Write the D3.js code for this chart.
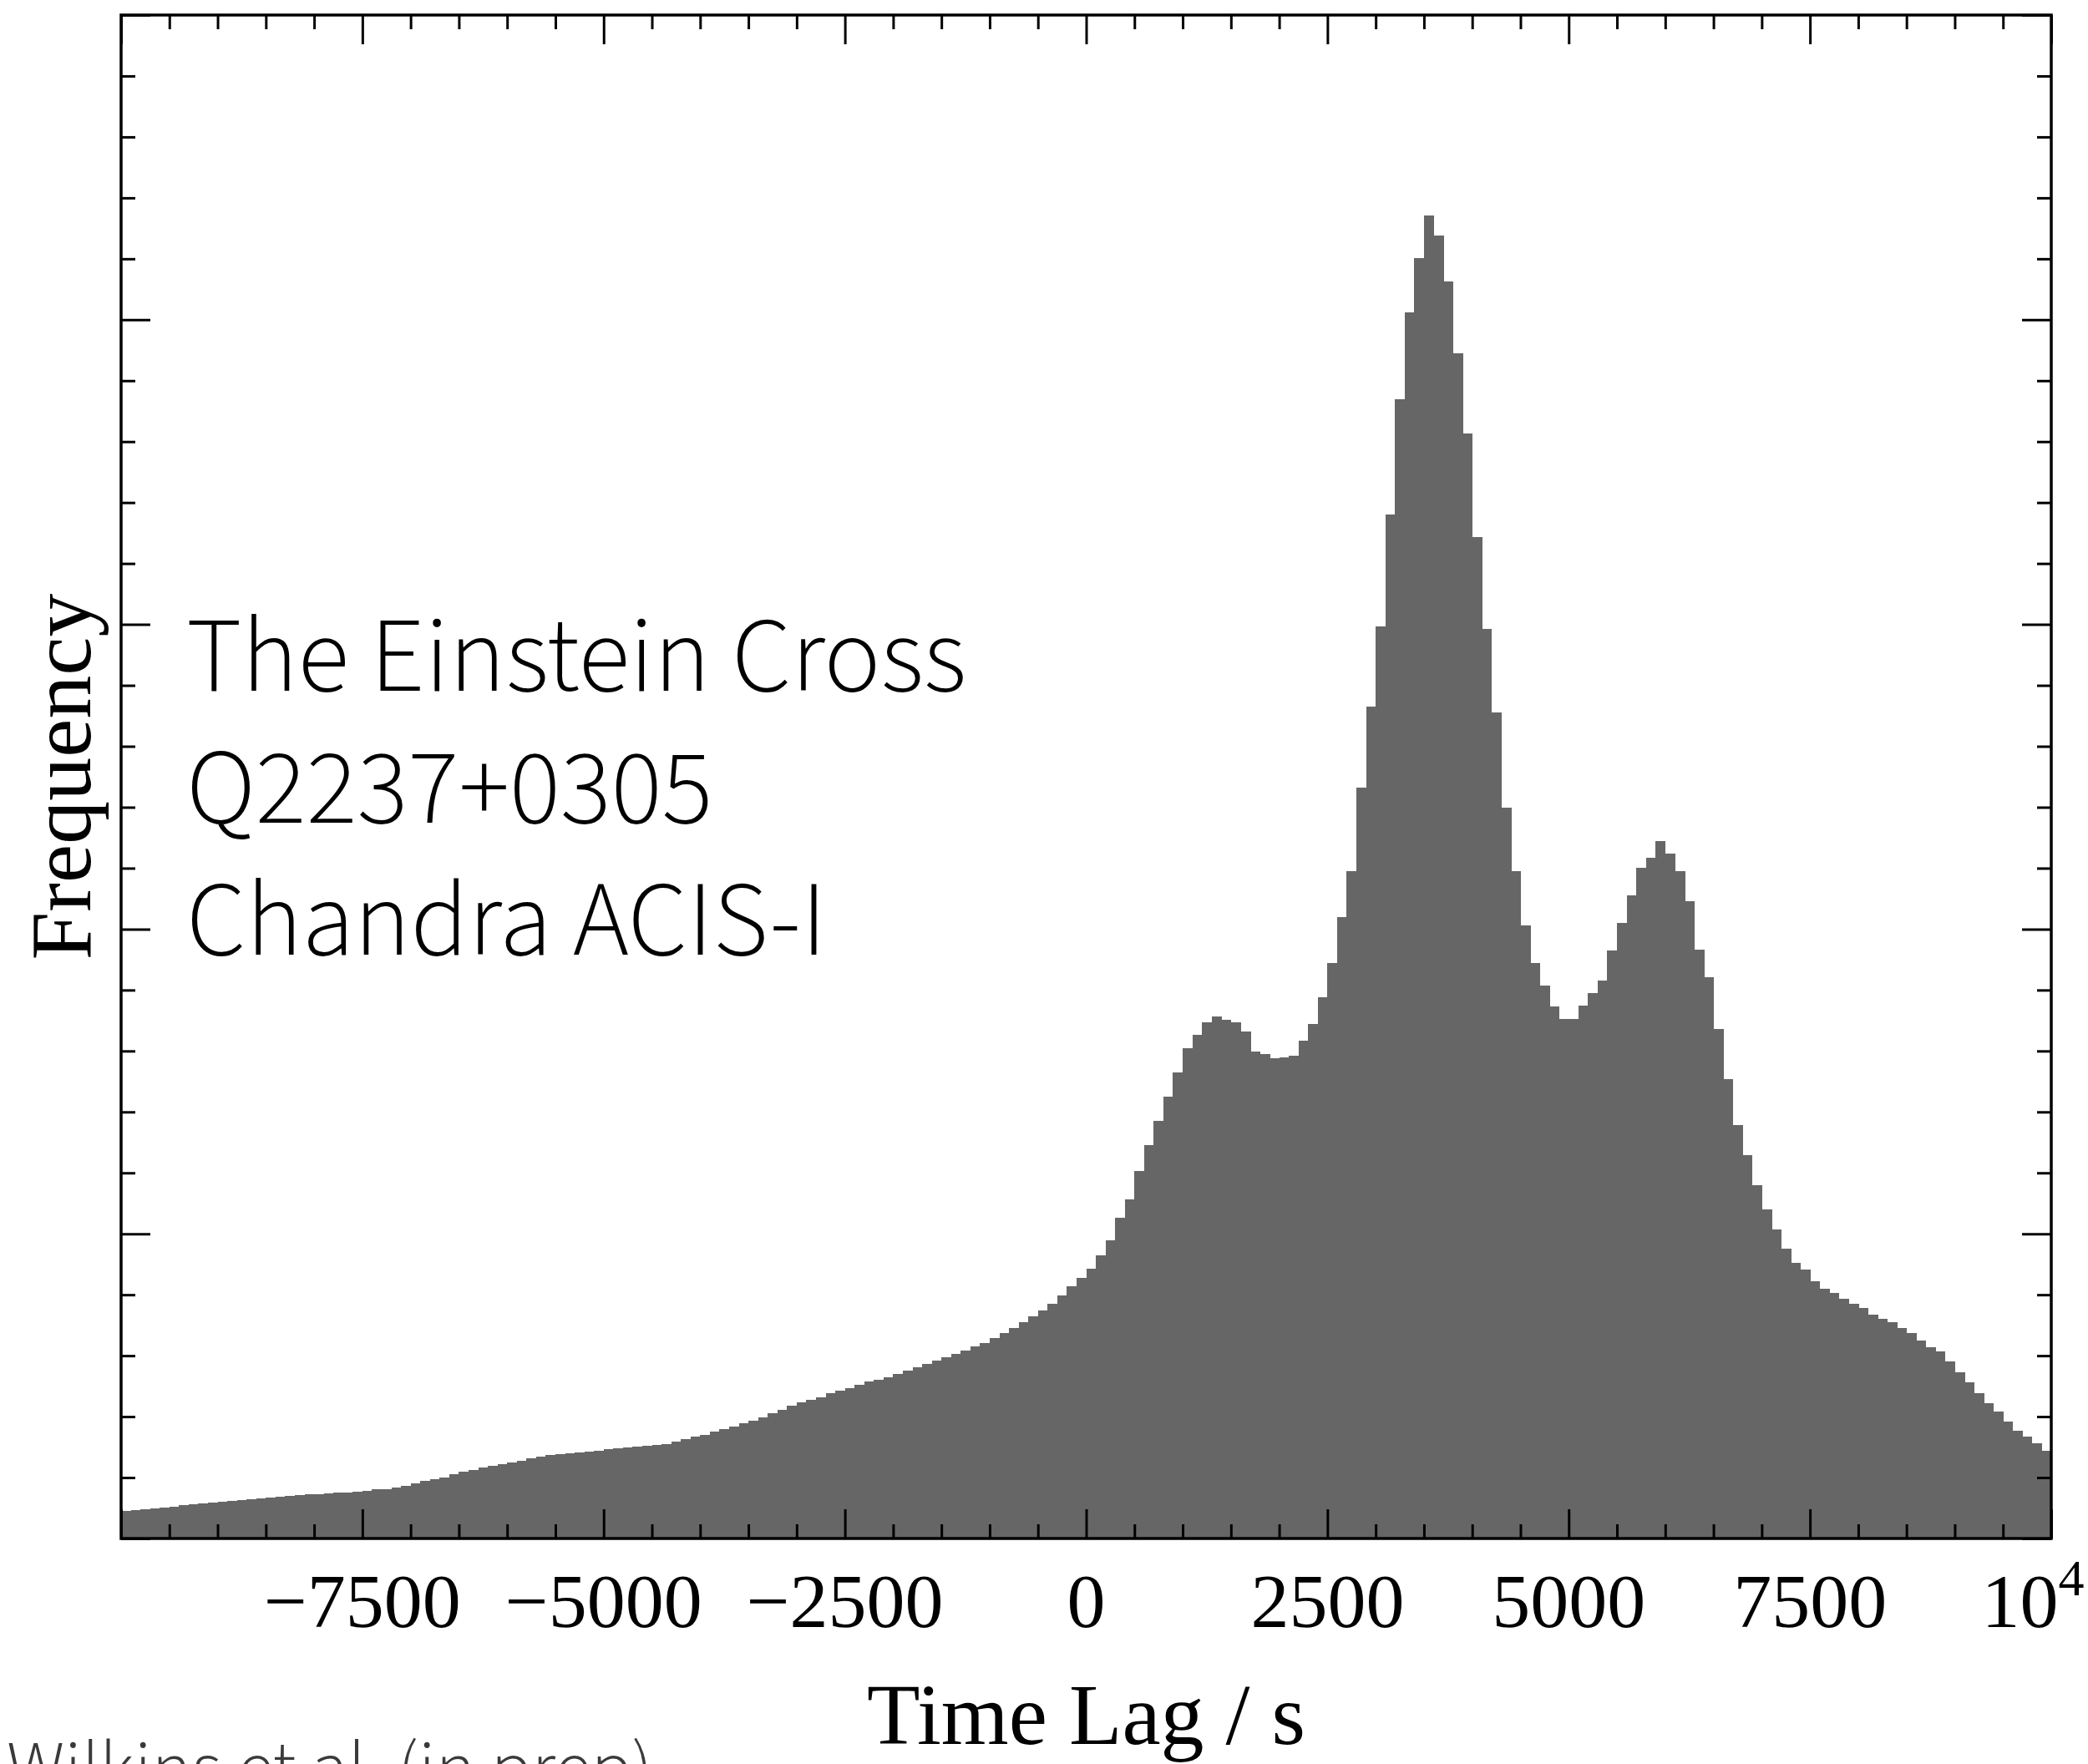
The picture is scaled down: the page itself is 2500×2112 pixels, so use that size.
<!DOCTYPE html>
<html>
<head>
<meta charset="utf-8">
<script src="https://cdn.jsdelivr.net/npm/d3@7"></script>
<style>
  html, body { margin: 0; padding: 0; background: #ffffff; }
  svg { display: block; }
</style>
</head>
<body>
<svg id="chart" width="2500" height="2112"></svg>
<script>
// ---------------- data ----------------
const binWidth = 100; // seconds per histogram bin
const lagStart = -10000;
const frequency = [
  90, 94, 97, 99, 101, 105, 109, 112, 116, 119,
  121, 123, 127, 130, 132, 135, 138, 141, 142, 144,
  146, 148, 150, 152, 154, 157, 161, 163, 166, 172,
  181, 189, 195, 201, 210, 219, 226, 233, 239, 244,
  250, 256, 263, 268, 273, 276, 279, 283, 286, 289,
  292, 296, 298, 301, 304, 307, 311, 319, 327, 334,
  341, 350, 358, 367, 378, 387, 398, 410, 422, 435,
  446, 455, 464, 476, 485, 494, 504, 514, 522, 530,
  540, 552, 563, 572, 584, 595, 607, 618, 630, 641,
  657, 673, 692, 710, 728, 748, 769, 797, 829, 855,
  885, 930, 979, 1053, 1114, 1206, 1291, 1371, 1450, 1530,
  1609, 1652, 1695, 1713, 1701, 1695, 1664, 1597, 1591, 1576,
  1579, 1585, 1634, 1689, 1775, 1890, 2040, 2191, 2465, 2729,
  2994, 3362, 3739, 4023, 4202, 4343, 4277, 4126, 3890, 3626,
  3286, 2984, 2710, 2399, 2191, 2012, 1889, 1814, 1747, 1704,
  1705, 1750, 1789, 1831, 1931, 2019, 2111, 2202, 2235, 2288,
  2248, 2189, 2091, 1933, 1842, 1671, 1507, 1356, 1258, 1160,
  1081, 1015, 952, 904, 884, 845, 819, 806, 786, 770,
  756, 736, 720, 711, 690, 674, 650, 627, 613, 581,
  545, 513, 476, 444, 417, 385, 353, 334, 312, 289
];
const xDomain = [-10000, 10000];
const yDomain = [0, 5000];
const xMajorTicks = [-10000, -7500, -5000, -2500, 0, 2500, 5000, 7500, 10000];
const xTickLabels = ["", "\u22127500", "\u22125000", "\u22122500", "0", "2500", "5000", "7500", "10"];
const xMinorStep = 500;
const yMajorTicks = [0, 1000, 2000, 3000, 4000, 5000];
const yMinorStep = 200;
const annotationLines = ["The Einstein Cross", "Q2237+0305", "Chandra ACIS-I"];
const xTitle = "Time Lag / s";
const yTitle = "Frequency";
const credit = "Wilkins et al. (in prep)";

// ---------------- layout ----------------
const plot = { left: 145, top: 18, right: 2456, bottom: 1842 };
const svg = d3.select("#chart");
svg.append("rect").attr("width", 2500).attr("height", 2112).attr("fill", "#ffffff");

const x = d3.scaleLinear().domain(xDomain).range([plot.left, plot.right]);
const y = d3.scaleLinear().domain(yDomain).range([plot.bottom, plot.top]);

const bins = frequency.map((v, i) => ({
  x0: lagStart + i * binWidth,
  x1: lagStart + (i + 1) * binWidth,
  v: v
}));

// histogram bars
svg.append("g")
  .attr("shape-rendering", "crispEdges")
  .selectAll("rect")
  .data(bins)
  .join("rect")
  .attr("x", d => x(d.x0))
  .attr("width", d => Math.max(0, x(d.x1) - x(d.x0) + 0.6))
  .attr("y", d => y(d.v))
  .attr("height", d => y(0) - y(d.v))
  .attr("fill", "#666666");

// ticks (inward on all four sides)
const majorLen = 35, minorLen = 17;
const xMinor = d3.range(xDomain[0], xDomain[1] + 1, xMinorStep).filter(t => !xMajorTicks.includes(t));
const yMinor = d3.range(yDomain[0], yDomain[1] + 1, yMinorStep).filter(t => !yMajorTicks.includes(t));

const bottomMajor = d3.axisBottom(x).tickValues(xMajorTicks).tickSize(-majorLen).tickFormat("");
const bottomMinor = d3.axisBottom(x).tickValues(xMinor).tickSize(-minorLen).tickFormat("");
const topMajor = d3.axisTop(x).tickValues(xMajorTicks).tickSize(-majorLen).tickFormat("");
const topMinor = d3.axisTop(x).tickValues(xMinor).tickSize(-minorLen).tickFormat("");
const leftMajor = d3.axisLeft(y).tickValues(yMajorTicks).tickSize(-majorLen).tickFormat("");
const leftMinor = d3.axisLeft(y).tickValues(yMinor).tickSize(-minorLen).tickFormat("");
const rightMajor = d3.axisRight(y).tickValues(yMajorTicks).tickSize(-majorLen).tickFormat("");
const rightMinor = d3.axisRight(y).tickValues(yMinor).tickSize(-minorLen).tickFormat("");

function addAxis(ax, tx, ty) {
  const g = svg.append("g").attr("transform", `translate(${tx},${ty})`).call(ax);
  g.select(".domain").remove();
  g.selectAll(".tick line").attr("stroke", "#000").attr("stroke-width", 3);
  return g;
}
addAxis(bottomMajor, 0, plot.bottom);
addAxis(bottomMinor, 0, plot.bottom);
addAxis(topMajor, 0, plot.top);
addAxis(topMinor, 0, plot.top);
addAxis(leftMajor, plot.left, 0);
addAxis(leftMinor, plot.left, 0);
addAxis(rightMajor, plot.right, 0);
addAxis(rightMinor, plot.right, 0);

// frame
svg.append("rect")
  .attr("x", plot.left).attr("y", plot.top)
  .attr("width", plot.right - plot.left).attr("height", plot.bottom - plot.top)
  .attr("fill", "none").attr("stroke", "#000").attr("stroke-width", 3.5);

// x tick labels
const serif = "'Liberation Serif', 'Times New Roman', Times, serif";
const labelG = svg.append("g")
  .attr("font-family", serif).attr("font-size", 92).attr("fill", "#000");
xMajorTicks.forEach((t, i) => {
  const lab = xTickLabels[i];
  if (!lab) return;
  if (t === 10000) {
    const txt = labelG.append("text")
      .attr("x", x(t) - 22).attr("y", 1948).attr("text-anchor", "middle");
    txt.append("tspan").text(lab);
    txt.append("tspan").attr("dy", -38).attr("font-size", 62).text("4");
  } else {
    labelG.append("text")
      .attr("x", x(t)).attr("y", 1948).attr("text-anchor", "middle").text(lab);
  }
});

// axis titles
svg.append("text")
  .attr("x", (plot.left + plot.right) / 2).attr("y", 2088)
  .attr("text-anchor", "middle")
  .attr("font-family", serif).attr("font-size", 104).attr("fill", "#000")
  .text(xTitle);

svg.append("text")
  .attr("transform", `translate(108, ${(plot.top + plot.bottom) / 2}) rotate(-90)`)
  .attr("text-anchor", "middle")
  .attr("font-family", serif).attr("font-size", 104).attr("fill", "#000")
  .text(yTitle);

// annotation
const sans = "'Source Sans Pro', 'Source Sans 3', Lato, 'Open Sans', sans-serif";
const annBaselines = [827, 985, 1143];
annotationLines.forEach((line, i) => {
  svg.append("text")
    .attr("x", 223).attr("y", annBaselines[i])
    .attr("font-family", sans).attr("font-weight", 300).attr("font-size", 127)
    .attr("fill", "#000")
    .text(line);
});

// credit (partially off-canvas, as in the reference)
svg.append("text")
  .attr("x", 8).attr("y", 2146)
  .attr("font-family", sans).attr("font-weight", 300).attr("font-size", 90)
  .attr("fill", "#3a3a3a")
  .text(credit);
</script>
</body>
</html>
